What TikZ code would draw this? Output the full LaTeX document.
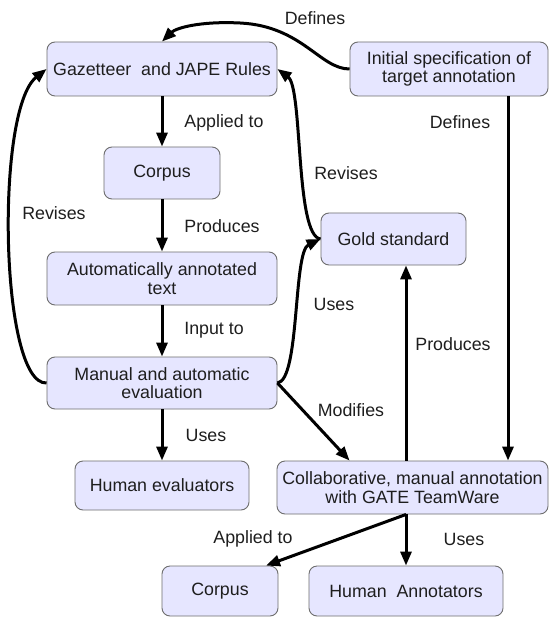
\documentclass[tikz,border=0pt]{standalone}
\usepackage{fontspec}
\setmainfont{Liberation Sans}
\usetikzlibrary{arrows.meta,calc}
\definecolor{boxfill}{HTML}{E6E6FF}
\definecolor{boxline}{HTML}{6E6E6E}
\definecolor{txt}{HTML}{1E1E1E}
\begin{document}
\begin{tikzpicture}[x=1pt,y=-1pt,
  box/.style={draw=boxline, fill=boxfill, rounded corners=8pt, line width=0.9pt,
    align=center, inner sep=0pt, font=\fontsize{17.8}{18.5}\selectfont, text=txt},
  lbl/.style={font=\fontsize{17.8}{18.5}\selectfont, text=txt, inner sep=0pt},
  conn/.style={line width=3pt, -{Triangle[length=14pt,width=11pt]}}
]
\useasboundingbox[fill=white] (0,0) rectangle (548,617);

% nodes
\node[box, minimum width=230pt, minimum height=54pt] (gaz) at (162,69) {Gazetteer\ \ and JAPE Rules};
\node[box, minimum width=198pt, minimum height=54pt] (init) at (449,69) {Initial specification of\\target annotation};
\node[box, minimum width=116pt, minimum height=52pt] (corpA) at (162,173) {Corpus};
\node[box, minimum width=230pt, minimum height=53pt] (auto) at (162,278.5) {Automatically annotated\\text};
\node[box, minimum width=230pt, minimum height=52pt] (eval) at (162,383) {Manual and automatic\\evaluation};
\node[box, minimum width=145pt, minimum height=52pt] (gold) at (393.5,239) {Gold standard};
\node[box, minimum width=174pt, minimum height=49pt] (heval) at (162,485.5) {Human evaluators};
\node[box, minimum width=271pt, minimum height=53pt] (collab) at (412.5,487.5) {Collaborative, manual annotation\\with GATE TeamWare};
\node[box, minimum width=116pt, minimum height=50pt] (corpB) at (220,591) {Corpus};
\node[box, minimum width=194pt, minimum height=50pt] (hann) at (406,591) {Human\ \ Annotators};

\coordinate (dx) at (508,0);
\coordinate (px) at (406,0);

% connectors
\draw[conn] (init.west) .. controls (320,69) and (302,26) .. (240,23)
  .. controls (200,21) and (176,28) .. (gaz.north);
\draw[conn] (gaz) -- (corpA);
\draw[conn] (corpA) -- (auto);
\draw[conn] (auto) -- (eval);
\draw[conn] (eval) -- (heval);
\draw[conn] (eval.west) .. controls (0,385) and (-5,110) .. (gaz.west);
\draw[conn] (gold.west) .. controls (295,236) and (303,88) .. (gaz.east);
\draw[conn] (eval.east) .. controls (300,380) and (293,252) .. (gold.west);
\draw[conn] (eval.east) -- ([xshift=73pt]collab.north west);
\draw[conn] (init.south -| dx) -- (collab.north -| dx);
\draw[conn] (collab.north -| px) -- (gold.south -| px);
\draw[conn] (collab.south -| px) -- (hann.north);
\draw[conn] (collab.south -| px) -- ([xshift=46pt]corpB.north);

% labels
\node[lbl] (l1) at (315,18) {Defines};
\node[lbl] (l2) at (224,123) {Applied to};
\node[lbl] (l3) at (346,173) {Revises};
\node[lbl] (l4) at (460,122) {Defines};
\node[lbl] (l5) at (54,213) {Revises};
\node[lbl] (l6) at (222,226) {Produces};
\node[lbl] (l7) at (334,304) {Uses};
\node[lbl] (l8) at (214,330) {Input to};
\node[lbl] (l9) at (453,344) {Produces};
\node[lbl] (l10) at (351,410) {Modifies};
\node[lbl] (l11) at (206,435) {Uses};
\node[lbl] (l12) at (253,539) {Applied to};
\node[lbl] (l13) at (464,539) {Uses};
\end{tikzpicture}
\end{document}
